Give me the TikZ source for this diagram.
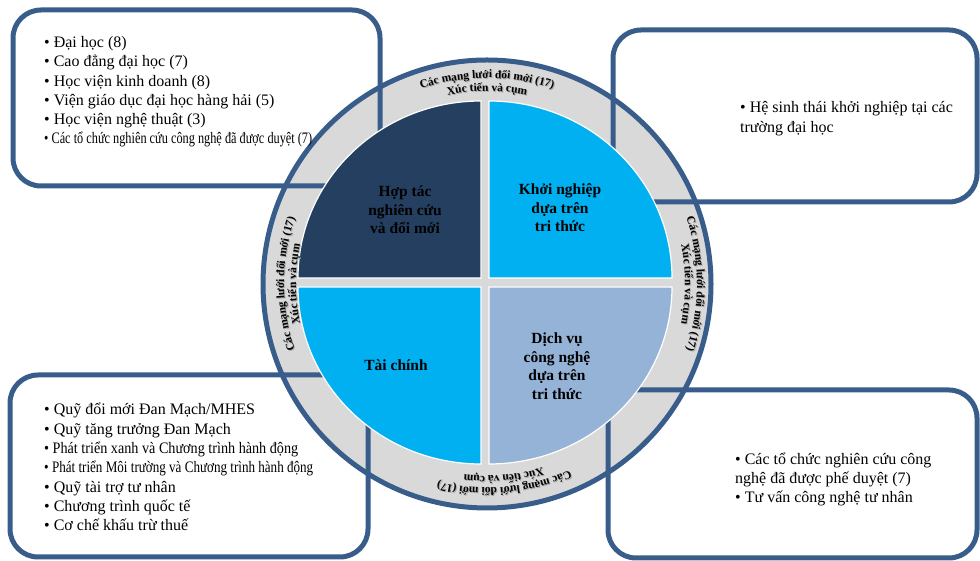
\documentclass[tikz,border=0pt]{standalone}
\usepackage{fontspec}
\setmainfont{Liberation Serif}
\usetikzlibrary{decorations.text}
\definecolor{bordblue}{HTML}{385D8A}
\definecolor{navyq}{HTML}{243F60}
\definecolor{cyanq}{HTML}{00B0F0}
\definecolor{lightq}{HTML}{95B3D7}
\definecolor{ringgray}{HTML}{D9D9D9}
\definecolor{shadowgray}{HTML}{A6A6A6}
\newcommand\ringfont{\fontsize{11.5}{13}\selectfont\bfseries}
\newcommand\ringtext[3]{%
\path[shift={(C)},xshift=1pt,yshift=-1pt,decorate,decoration={text along path,text align=center,text={|\ringfont\color{shadowgray}|#3}}] ({#1+45}:#2) arc[start angle={#1+45},end angle={#1-45},radius=#2];
\path[shift={(C)},decorate,decoration={text along path,text align=center,text={|\ringfont|#3}}] ({#1+45}:#2) arc[start angle={#1+45},end angle={#1-45},radius=#2];}
\tikzset{
  box/.style={draw=bordblue,line width=5pt,rounded corners=28pt},
  boxtext/.style={anchor=base west,inner sep=0pt,font=\fontsize{16}{18}\selectfont},
  quadlabel/.style={align=center,inner sep=0pt,font=\fontsize{15.5}{18.5}\selectfont\bfseries},
  quarter/.style={draw=white,line width=1.2pt}
}
\begin{document}
\begin{tikzpicture}[x=1pt,y=1pt]
\useasboundingbox (0,0) rectangle (980,561);
\coordinate (C) at (487,277);
% ring
\fill[ringgray] (C) circle[radius=223];
\draw[bordblue,line width=5pt] (C) circle[radius=224];
% boxes
\draw[box] (13,551) rectangle (380,375);
\draw[box] (613,531) rectangle (977,359);
\draw[box] (10,186) rectangle (368,4);
\draw[box] (608,171) rectangle (977,3);
% quarters
\filldraw[quarter,fill=navyq] (481,283) -- (298,283) arc[start angle=180,end angle=90,x radius=183,y radius=177] -- cycle;
\filldraw[quarter,fill=cyanq] (489,283) -- (489,460) arc[start angle=90,end angle=0,x radius=183,y radius=177] -- cycle;
\filldraw[quarter,fill=cyanq] (481,274) -- (481,97) arc[start angle=270,end angle=180,x radius=183,y radius=177] -- cycle;
\filldraw[quarter,fill=lightq] (489,274) -- (672,274) arc[start angle=0,end angle=-90,x radius=183,y radius=177] -- cycle;
% quarter labels
\node[quadlabel] (qtl) at (405,351) {Hợp tác\\nghiên cứu\\và đổi mới};
\node[quadlabel] (qtr) at (560,353) {Khởi nghiệp\\dựa trên\\tri thức};
\node[quadlabel] (qbl) at (396,196) {Tài chính};
\node[quadlabel] (qbr) at (557,195) {Dịch vụ\\công nghệ\\dựa trên\\tri thức};
% ring texts
\ringtext{90}{206}{Các mạng lưới đổi mới (17)}
\ringtext{90}{193}{Xúc tiến và cụm}
\ringtext{0}{210}{Các mạng lưới đổi mới (17)}
\ringtext{0}{198}{Xúc tiến và cụm}
\ringtext{-85}{204}{Các mạng lưới đổi mới (17)}
\ringtext{-85}{192}{Xúc tiến và cụm}
\ringtext{180}{203}{Các mạng lưới đổi mới (17)}
\ringtext{180}{191}{Xúc tiến và cụm}
% top-left box text
\node[boxtext] (a1) at (44,513.5) {• Đại học (8)};
\node[boxtext] (a2) at (44,494.2) {• Cao đẳng đại học (7)};
\node[boxtext] (a3) at (44,474.9) {• Học viện kinh doanh (8)};
\node[boxtext] (a4) at (44,455.6) {• Viện giáo dục đại học hàng hải (5)};
\node[boxtext] (a5) at (44,436.3) {• Học viện nghệ thuật (3)};
\node[boxtext] (a6) at (44,417) {\resizebox{268pt}{\height}{• Các tổ chức nghiên cứu công nghệ đã được duyệt (7)}};
% top-right box text
\node[boxtext] (b1) at (740,448) {• Hệ sinh thái khởi nghiệp tại các};
\node[boxtext] (b2) at (740,428) {trường đại học};
% bottom-left box text
\node[boxtext] (c1) at (44,146) {• Quỹ đổi mới Đan Mạch/MHES};
\node[boxtext] (c2) at (44,126.7) {• Quỹ tăng trưởng Đan Mạch};
\node[boxtext] (c3) at (44,107.4) {\resizebox{254pt}{\height}{• Phát triển xanh và Chương trình hành động}};
\node[boxtext] (c4) at (44,88.1) {\resizebox{269pt}{\height}{• Phát triển Môi trường và Chương trình hành động}};
\node[boxtext] (c5) at (44,68.8) {• Quỹ tài trợ tư nhân};
\node[boxtext] (c6) at (44,49.5) {• Chương trình quốc tế};
\node[boxtext] (c7) at (44,30.2) {• Cơ chế khấu trừ thuế};
% bottom-right box text
\node[boxtext] (d1) at (735,96) {• Các tổ chức nghiên cứu công};
\node[boxtext] (d2) at (735,77) {nghệ đã được phế duyệt (7)};
\node[boxtext] (d3) at (735,58) {• Tư vấn công nghệ tư nhân};
\end{tikzpicture}
\end{document}
